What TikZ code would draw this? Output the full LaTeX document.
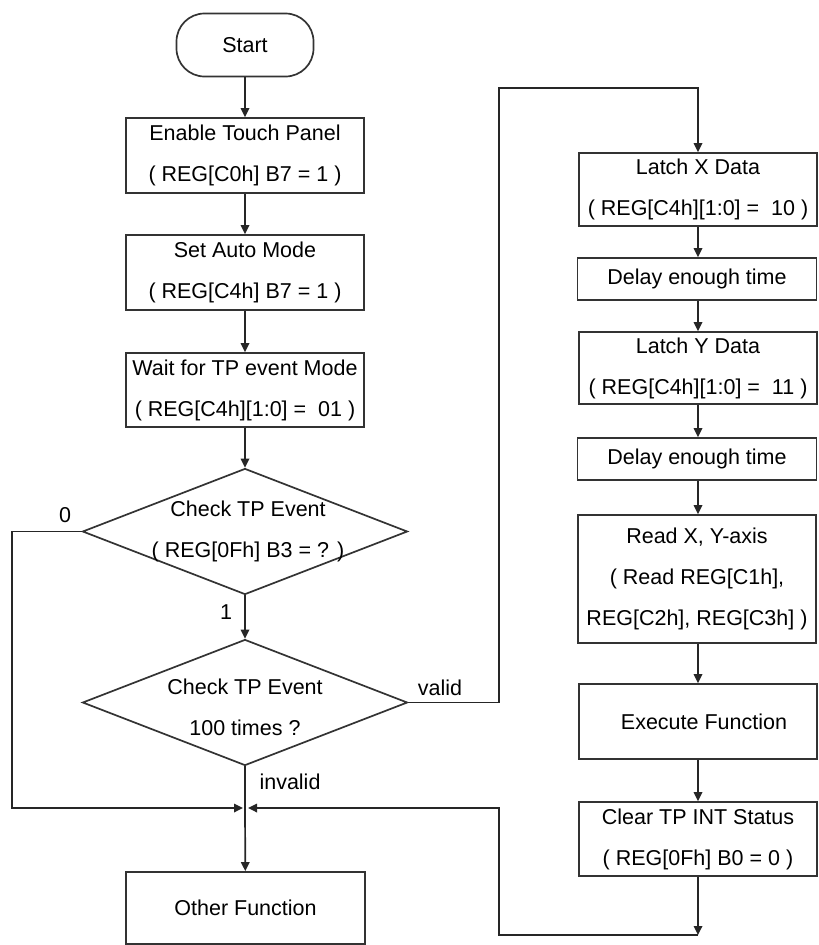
\documentclass[tikz,border=0pt]{standalone}
\usepackage{fontspec}
\setmainfont{Liberation Sans}
\usetikzlibrary{arrows.meta,shapes.geometric}
\newcommand\flowfont{\fontsize{21.5}{41}\selectfont}
\begin{document}
\begin{tikzpicture}[x=1pt,y=-1pt,
  ln/.style={draw=black!85,line width=1.7pt},
  arr/.style={ln,-{Triangle[length=9pt,width=8.5pt]}},
  proc/.style={draw=black!80,line width=1.7pt,rectangle,inner sep=0pt,align=center,font=\flowfont,minimum width=238pt},
  term/.style={proc,rounded corners=28pt,minimum width=137pt,minimum height=63pt},
  dec/.style={draw=black!80,line width=1.7pt,diamond,inner sep=0pt,minimum width=325pt,minimum height=126pt},
  txt/.style={inner sep=0pt,align=center,font=\flowfont},
  lbl/.style={inner sep=0pt,font=\flowfont}]
\useasboundingbox (0,0) rectangle (819,945);
% left column
\node[term] (start) at (245,45) {Start};
\node[proc,minimum height=75pt] (enable) at (245,155.5) {Enable Touch Panel\\( REG[C0h] B7 = 1 )};
\node[proc,minimum height=75pt] (auto) at (245,272.5) {Set Auto Mode\\( REG[C4h] B7 = 1 )};
\node[proc,minimum height=74pt] (wait) at (245,390) {Wait for TP event Mode\\( REG[C4h][1:0] = \ 01 )};
\node[dec] (d1) at (245,531.5) {};
\node[txt] (d1t) at (248,531) {Check TP Event\\( REG[0Fh] B3 = ? )};
\node[dec] (d2) at (245,702.5) {};
\node[txt] (d2t) at (245,707) {Check TP Event\\100 times ?};
\node[proc,minimum height=72pt,minimum width=239pt] (other) at (245.5,908) {Other Function};
% right column
\node[proc,minimum height=73pt] (latchx) at (698,189.5) {Latch X Data\\( REG[C4h][1:0] = \ 10 )};
\node[proc,minimum height=42pt,minimum width=239pt] (delay1) at (697,279) {Delay enough time};
\node[proc,minimum height=72pt] (latchy) at (698,368) {Latch Y Data\\( REG[C4h][1:0] = \ 11 )};
\node[proc,minimum height=42pt,minimum width=239pt] (delay2) at (697,459) {Delay enough time};
\node[proc,minimum height=128pt] (read) at (697,579) {Read X, Y-axis\\( Read REG[C1h],\\REG[C2h], REG[C3h] )};
\node[proc,minimum height=75pt] (exec) at (698,721.5) {\hspace*{12pt}Execute Function};
\node[proc,minimum height=74pt] (clear) at (698,839) {Clear TP INT Status\\( REG[0Fh] B0 = 0 )};
% labels
\node[lbl] (l0) at (65,515) {0};
\node[lbl] (l1) at (226,612) {1};
\node[lbl] (lvalid) at (440,688) {valid};
\node[lbl] (linvalid) at (290,782) {invalid};
% coordinates
\coordinate (j) at (245,808);
\coordinate (jl) at ([xshift=-2pt]j);
\coordinate (jr) at ([xshift=3pt]j);
\coordinate (a1) at (12,531.5);
\coordinate (a2) at (12,808);
\coordinate (b1) at (499,702.5);
\coordinate (b2) at (499,88);
\coordinate (b3) at (698,88);
\coordinate (c1) at (698,935);
\coordinate (c2) at (499,935);
\coordinate (c3) at (499,808);
% connectors
\draw[arr] (start) -- (enable);
\draw[arr] (enable) -- (auto);
\draw[arr] (auto) -- (wait);
\draw[arr] (wait) -- (d1);
\draw[arr] (d1) -- (d2);
\draw[arr] (d1.west) -- (a1) -- (a2) -- (jl);
\draw[ln] (d2.south) -- (j);
\draw[arr] (j) -- (other);
\draw[arr] (d2.east) -- (b1) -- (b2) -- (b3) -- (latchx.north);
\draw[arr] (latchx.south) -- (latchx.south |- delay1.north);
\draw[arr] (delay1.south -| latchx) -- (latchy.north);
\draw[arr] (latchy.south) -- (latchy.south |- delay2.north);
\draw[arr] (delay2.south -| latchx) -- (read.north -| latchx);
\draw[arr] (read.south -| latchx) -- (exec.north);
\draw[arr] (exec.south) -- (clear.north);
\draw[arr] (clear.south) -- (c1);
\draw[arr] (c1) -- (c2) -- (c3) -- (jr);
\end{tikzpicture}
\end{document}
